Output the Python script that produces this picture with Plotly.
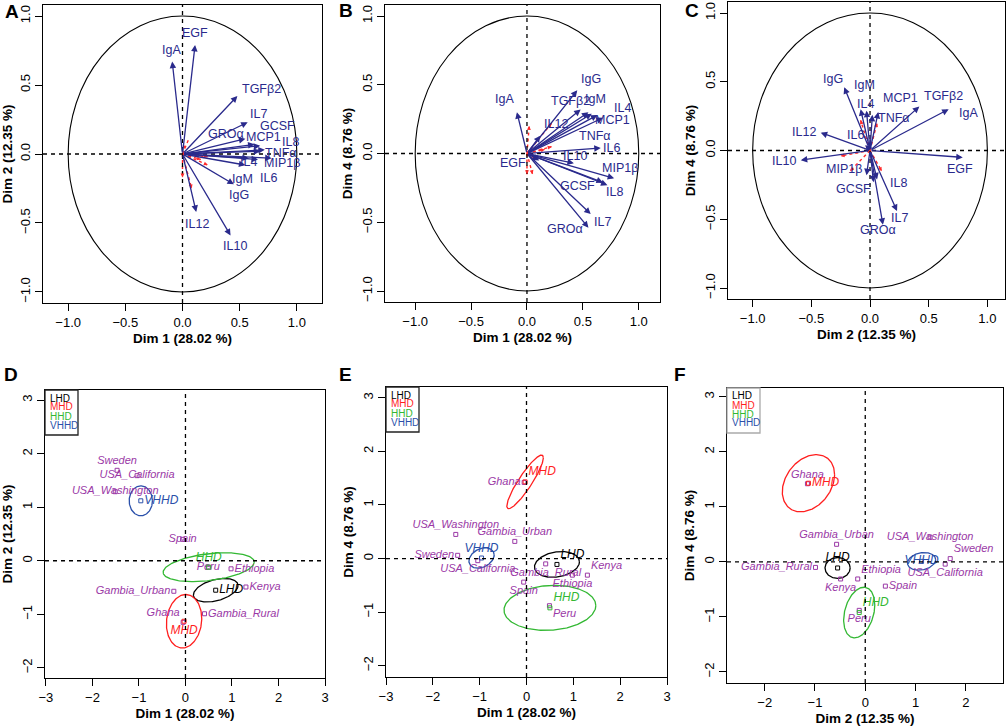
import math
import numpy as np
import plotly.graph_objects as go

W, H = 1007, 726
FONT = "Liberation Sans, Arial, sans-serif"

# ---------------- data ----------------
variables = ["EGF", "IgA", "TGFβ2", "IL7", "GROα", "GCSF", "MCP1", "IL8", "TNFα",
             "IL4", "MIP1β", "IL6", "IgM", "IgG", "IL12", "IL10"]
var_dim1 = [0.11, -0.09, 0.48, 0.57, 0.55, 0.68, 0.63, 0.72, 0.68, 0.58, 0.78, 0.66, 0.55, 0.45, 0.12, 0.42]
var_dim2 = [0.79, 0.67, 0.42, 0.23, 0.11, 0.06, 0.07, 0.03, 0.02, -0.03, -0.03, -0.04, -0.08, -0.22, -0.42, -0.59]
var_dim4 = [-0.05, 0.30, 0.32, -0.44, -0.54, -0.21, 0.28, -0.23, 0.26, 0.29, -0.18, 0.04, 0.30, 0.46, 0.13, -0.07]

# supplementary (red dashed) variables
supp_dim1 = [0.02, 0.22, 0.16, 0.00, 0.08, 0.05, 0.22]
supp_dim2 = [0.06, -0.08, -0.04, -0.17, -0.25, 0.10, -0.02]
supp_dim4 = [0.20, 0.22, 0.03, -0.15, -0.04, -0.15, 0.05]

countries = ["Sweden", "USA_California", "USA_Washington", "Spain", "Peru",
             "Ethiopia", "Kenya", "Gambia_Rural", "Gambia_Urban", "Ghana"]
ind_dim1 = [-1.47, -1.04, -1.51, -0.06, 0.49, 0.98, 1.30, 0.41, -0.25, -0.05]
ind_dim2 = [1.69, 1.59, 1.29, 0.40, -0.12, -0.15, -0.49, -0.99, -0.57, -1.15]
ind_dim4 = [0.06, -0.04, 0.45, -0.44, -0.88, -0.31, -0.31, -0.10, 0.32, 1.42]

groups = ["LHD", "MHD", "HHD", "VHHD"]
grp_dim1 = [0.65, -0.03, 0.50, -0.96]
grp_dim2 = [-0.55, -1.13, -0.12, 1.12]
grp_dim4 = [-0.11, 1.43, -0.92, 0.01]

# confidence ellipses: half-extent x, half-extent y, correlation
ellD_sx = [0.48, 0.38, 0.98, 0.25]; ellD_sy = [0.22, 0.50, 0.27, 0.28]; ellD_r = [0.40, 0.10, 0.35, 0.00]
ellE_sx = [0.48, 0.39, 0.98, 0.27]; ellE_sy = [0.24, 0.50, 0.42, 0.19]; ellE_r = [0.20, 0.90, 0.10, 0.30]
ellF_sx = [0.25, 0.52, 0.31, 0.28]; ellF_sy = [0.19, 0.52, 0.46, 0.16]; ellF_r = [0.00, 0.30, 0.30, 0.20]

# ---------------- styles ----------------
NAVY = "#2A2A8C"
RED = "#FF2A2A"
PURPLE = "#9A38A6"
GROUP_COLORS = ["#000000", "#FF1F1F", "#33B833", "#2A50AA"]
DASH = "4px,4px"

# label nudges (xanchor, yanchor, xshift px, yshift px) for crowded variable labels
nudge_A = {"GROα": ("right", "middle", 1, 5), "MCP1": ("left", "middle", -11, 7),
           "GCSF": ("left", "middle", -2, 20), "IL8": ("left", "middle", 15, 8),
           "TNFα": ("left", "middle", 3, -2), "MIP1β": ("left", "middle", -10, -5),
           "IL6": ("left", "middle", 0, -18), "IL4": ("left", "middle", -11, -4),
           "IgM": ("left", "middle", -15, -14), "IgG": ("left", "middle", -7, -11),
           "TGFβ2": ("left", "middle", 3, 7), "IL7": ("left", "middle", 0, 8),
           "IL10": ("center", "top", 4, -2)}
nudge_B = {"TGFβ2": ("center", "middle", -10, 9), "IgM": ("left", "middle", -5, 13),
           "IL4": ("left", "middle", 20, 6), "MCP1": ("left", "middle", -4, -5),
           "TNFα": ("left", "middle", -26, -18), "IL6": ("left", "middle", 0, 0),
           "IL10": ("center", "middle", 1, 7), "MIP1β": ("left", "middle", -14, 10),
           "IL8": ("left", "middle", -3, -7), "GCSF": ("right", "middle", -6, -4),
           "IL7": ("left", "middle", 1, -8), "GROα": ("right", "middle", -3, -1),
           "EGF": ("right", "middle", -11, -3), "IgA": ("center", "bottom", -12, 4)}
nudge_C = {"IgG": ("center", "middle", -11, 8), "IgM": ("center", "middle", 4, 24),
           "IL4": ("center", "middle", -1, 7), "MCP1": ("left", "middle", 3, 14),
           "IgA": ("left", "middle", 8, -4), "TNFα": ("left", "middle", 4, -3),
           "IL6": ("right", "middle", 1, 10), "MIP1β": ("right", "middle", -3, 6),
           "EGF": ("center", "middle", -3, -12), "GCSF": ("right", "middle", -4, -10),
           "IL8": ("left", "middle", 14, -1), "IL7": ("center", "middle", 2, -7),
           "GROα": ("center", "middle", -5, -5)}

panels = [
    dict(letter="A", lpos=(3, 12), box=(43, 5, 322, 303), xr=(-1.22, 1.22), yr=(-1.08, 1.08),
         xt="Dim 1 (28.02 %)", yt="Dim 2 (12.35 %)", kind="var", dims=(var_dim1, var_dim2),
         sdims=(supp_dim1, supp_dim2), nudge=nudge_A),
    dict(letter="B", lpos=(337, 10), box=(385, 5, 660, 302), xr=(-1.27, 1.19), yr=(-1.08, 1.08),
         xt="Dim 1 (28.02 %)", yt="Dim 4 (8.76 %)", kind="var", dims=(var_dim1, var_dim4),
         sdims=(supp_dim1, supp_dim4), nudge=nudge_B),
    dict(letter="C", lpos=(683, 10), box=(728, 2, 1005, 299), xr=(-1.21, 1.15), yr=(-1.08, 1.08),
         xt="Dim 2 (12.35 %)", yt="Dim 4 (8.76 %)", kind="var", dims=(var_dim2, var_dim4),
         sdims=(supp_dim2, supp_dim4), nudge=nudge_C),
    dict(letter="D", lpos=(2, 374), box=(45, 390, 325, 678), xr=(-3.02, 3.0), yr=(-2.19, 3.19),
         xt="Dim 1 (28.02 %)", yt="Dim 2 (12.35 %)", kind="ind",
         dims=(ind_dim1, ind_dim2), gdims=(grp_dim1, grp_dim2),
         ell=(ellD_sx, ellD_sy, ellD_r), legend_border="#222222",
         tpos=["top center", "middle center", "middle center", "middle center", "middle center",
               "middle right", "middle right", "middle right", "middle left", "top left"],
         gpos=["middle right", "bottom center", "top center", "middle right"]),
    dict(letter="E", lpos=(337, 374), box=(386, 387, 667, 677), xr=(-3.0, 3.0), yr=(-2.21, 3.2),
         xt="Dim 1 (28.02 %)", yt="Dim 4 (8.76 %)", kind="ind",
         dims=(ind_dim1, ind_dim4), gdims=(grp_dim1, grp_dim4),
         ell=(ellE_sx, ellE_sy, ellE_r), legend_border="#222222",
         tpos=["middle left", "bottom center", "top center", "bottom center", "bottom right",
               "bottom center", "top right", "bottom center", "top center", "middle left"],
         gpos=["top right", "top right", "top right", "top center"]),
    dict(letter="F", lpos=(672, 374), box=(727, 388, 1003, 683), xr=(-2.75, 2.74), yr=(-2.2, 3.16),
         xt="Dim 2 (12.35 %)", yt="Dim 4 (8.76 %)", kind="ind",
         dims=(ind_dim2, ind_dim4), gdims=(grp_dim2, grp_dim4),
         ell=(ellF_sx, ellF_sy, ellF_r), legend_border="#AAAAAA",
         tpos=["top right", "bottom center", "middle center", "middle right", "bottom center",
               "top right", "bottom center", "middle left", "top center", "top center"],
         gpos=["top center", "middle right", "top right", "middle center"]),
]

fig = go.Figure()
layout_axes = {}
shapes = []
annotations = []


def names(i):
    s = "" if i == 1 else str(i)
    return "x" + s, "y" + s, "xaxis" + s, "yaxis" + s


for i, p in enumerate(panels, start=1):
    xr, yr, xa, ya = names(i)
    bx0, by0, bx1, by1 = p["box"]
    sx = (bx1 - bx0) / (p["xr"][1] - p["xr"][0])
    sy = (by1 - by0) / (p["yr"][1] - p["yr"][0])
    if p["kind"] == "var":
        tv = [-1, -0.5, 0, 0.5, 1]
        xtv, ytv, fmt = tv, tv, ".1f"
    else:
        xtv = [-3, -2, -1, 0, 1, 2, 3] if p["letter"] != "F" else [-2, -1, 0, 1, 2]
        ytv = [-2, -1, 0, 1, 2, 3]
        fmt = "d"
    common = dict(showline=True, linecolor="black", linewidth=1, mirror=True,
                  ticks="outside", ticklen=7, tickwidth=1, tickcolor="black",
                  showgrid=False, zeroline=False, automargin=False,
                  tickfont=dict(family=FONT, size=13, color="black"),
                  tickformat=fmt)
    layout_axes[xa] = dict(common, domain=[bx0 / W, bx1 / W], range=list(p["xr"]), anchor=yr,
                           tickvals=xtv,
                           title=dict(text="<b>" + p["xt"] + "</b>", standoff=4,
                                      font=dict(family=FONT, size=13.5, color="black")))
    layout_axes[ya] = dict(common, domain=[1 - by1 / H, 1 - by0 / H], range=list(p["yr"]), anchor=xr,
                           tickvals=ytv, tickangle=-90,
                           title=dict(text="<b>" + p["yt"] + "</b>", standoff=4,
                                      font=dict(family=FONT, size=13.5, color="black")))

    # dashed axes through origin
    shapes.append(dict(type="line", xref=xr, yref=yr + " domain", x0=0, x1=0, y0=0, y1=1,
                       line=dict(color="black", width=1.3, dash=DASH)))
    shapes.append(dict(type="line", xref=xr + " domain", yref=yr, x0=0, x1=1, y0=0, y1=0,
                       line=dict(color="black", width=1.3, dash=DASH)))

    # panel letter
    annotations.append(dict(text="<b>" + p["letter"] + "</b>", xref="paper", yref="paper",
                            x=p["lpos"][0] / W, y=1 - p["lpos"][1] / H,
                            xanchor="left", yanchor="middle", showarrow=False,
                            font=dict(family=FONT, size=19, color="black")))

    if p["kind"] == "var":
        shapes.append(dict(type="circle", xref=xr, yref=yr, x0=-1, y0=-1, x1=1, y1=1,
                           line=dict(color="black", width=1.1)))
        # supplementary variables (red dashed)
        sxv, syv = p["sdims"]
        lx, ly = [], []
        for a, b in zip(sxv, syv):
            lx += [0, a, None]
            ly += [0, b, None]
            annotations.append(dict(x=a, y=b, ax=0.85 * a, ay=0.85 * b, xref=xr, yref=yr,
                                    axref=xr, ayref=yr, showarrow=True, arrowhead=2,
                                    arrowsize=0.6, arrowwidth=1.3, arrowcolor=RED, text=""))
        fig.add_trace(go.Scatter(x=lx, y=ly, mode="lines", xaxis=xr, yaxis=yr,
                                 line=dict(color=RED, width=1.4, dash="3px,3px"),
                                 showlegend=False, hoverinfo="skip"))
        # active variables (blue arrows)
        vx, vy = p["dims"]
        for name, a, b in zip(variables, vx, vy):
            annotations.append(dict(x=a, y=b, ax=0, ay=0, xref=xr, yref=yr, axref=xr, ayref=yr,
                                    showarrow=True, arrowhead=2, arrowsize=1, arrowwidth=1.3,
                                    arrowcolor=NAVY, text=""))
            if name in p["nudge"]:
                xanc, yanc, xs, ys = p["nudge"][name]
            else:
                dxp, dyp = a * sx, b * sy
                ang = math.atan2(dyp, dxp)
                c, s = math.cos(ang), math.sin(ang)
                xanc = "left" if c > 0.38 else ("right" if c < -0.38 else "center")
                yanc = "bottom" if s > 0.38 else ("top" if s < -0.38 else "middle")
                xs, ys = 3 * c, 3 * s
            annotations.append(dict(x=a, y=b, xref=xr, yref=yr, text=name, showarrow=False,
                                    xanchor=xanc, yanchor=yanc, xshift=xs, yshift=ys,
                                    font=dict(family=FONT, size=12.5, color=NAVY)))
    else:
        ix, iy = p["dims"]
        gx, gy = p["gdims"]
        esx, esy, er = p["ell"]
        t = np.linspace(0, 2 * np.pi, 181)
        for k, g in enumerate(groups):
            ex = gx[k] + esx[k] * np.cos(t)
            ey = gy[k] + esy[k] * (er[k] * np.cos(t) + math.sqrt(1 - er[k] ** 2) * np.sin(t))
            fig.add_trace(go.Scatter(x=ex, y=ey, mode="lines", xaxis=xr, yaxis=yr,
                                     line=dict(color=GROUP_COLORS[k], width=1.3),
                                     showlegend=False, hoverinfo="skip"))
        fig.add_trace(go.Scatter(x=ix, y=iy, mode="markers+text", xaxis=xr, yaxis=yr,
                                 text=["<i>" + c_ + "</i>" for c_ in countries],
                                 textposition=p["tpos"],
                                 textfont=dict(family=FONT, size=11, color=PURPLE),
                                 marker=dict(symbol="square-open", size=4, color=PURPLE,
                                             line=dict(width=1, color=PURPLE)),
                                 showlegend=False, hoverinfo="skip"))
        for k, g in enumerate(groups):
            fig.add_trace(go.Scatter(x=[gx[k]], y=[gy[k]], mode="markers+text", xaxis=xr, yaxis=yr,
                                     text=["<i>" + g + "</i>"], textposition=p["gpos"][k],
                                     textfont=dict(family=FONT, size=12, color=GROUP_COLORS[k]),
                                     marker=dict(symbol="square-open", size=4, color=GROUP_COLORS[k],
                                                 line=dict(width=1, color=GROUP_COLORS[k])),
                                     showlegend=False, hoverinfo="skip"))
        # legend box
        lw, lh = 33, 45
        shapes.append(dict(type="rect", xref="paper", yref="paper",
                           x0=bx0 / W, x1=(bx0 + lw) / W, y0=1 - (by0 + lh) / H, y1=1 - by0 / H,
                           line=dict(color=p["legend_border"], width=1.3), fillcolor="white",
                           layer="above"))
        for k, g in enumerate(groups):
            annotations.append(dict(text=g, xref="paper", yref="paper",
                                    x=(bx0 + 3) / W, y=1 - (by0 + 8 + 9 * k) / H,
                                    xanchor="left", yanchor="middle", showarrow=False,
                                    font=dict(family=FONT, size=10, color=GROUP_COLORS[k])))

fig.update_layout(width=W, height=H, margin=dict(l=0, r=0, t=0, b=0),
                  paper_bgcolor="white", plot_bgcolor="white", hovermode=False,
                  shapes=shapes, annotations=annotations, showlegend=False,
                  font=dict(family=FONT, color="black"), **layout_axes)

fig.write_html("out.html", config={"displayModeBar": False, "staticPlot": True},
               post_script="document.body.style.margin='0';document.body.style.padding='0';")
